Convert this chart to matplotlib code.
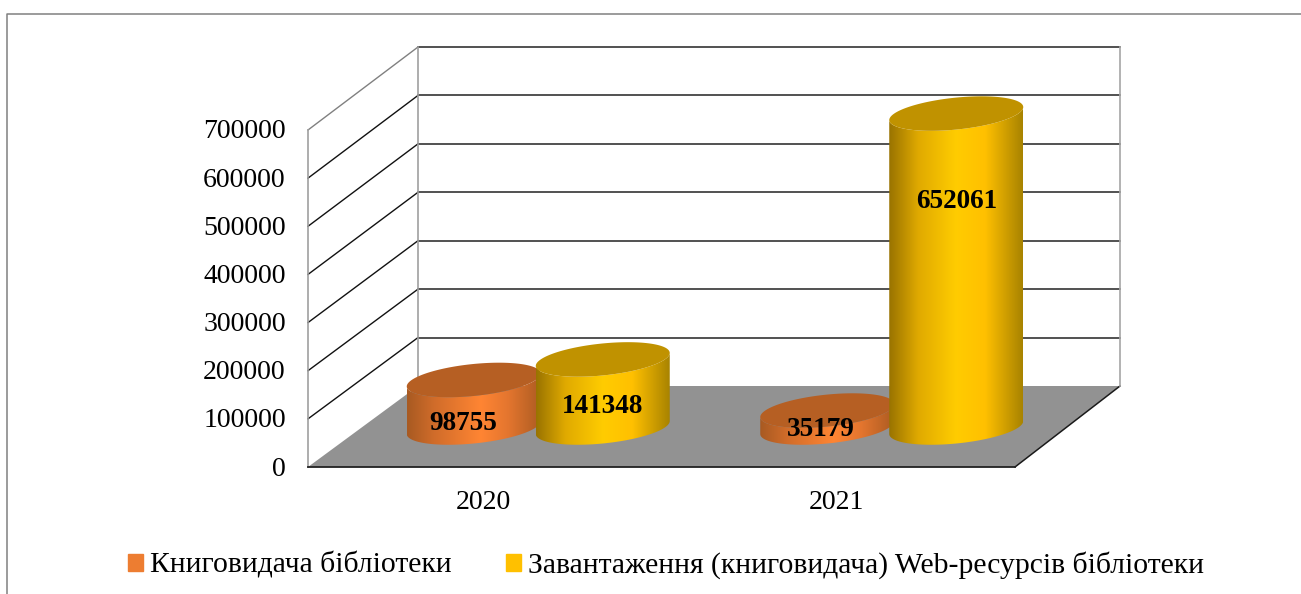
import matplotlib
matplotlib.use('Agg')
import matplotlib.pyplot as plt
import numpy as np
from matplotlib.colors import LinearSegmentedColormap
from matplotlib.lines import Line2D
from matplotlib.patches import Patch, Polygon
from matplotlib.transforms import ScaledTranslation

plt.rcParams['font.family'] = ['Liberation Serif', 'DejaVu Sans']

years = ['2020', '2021']
books = [98755, 35179]
downloads = [141348, 652061]
series_names = ['Книговидача бібліотеки', 'Завантаження (книговидача) Web-ресурсів бібліотеки']
y_ticks = [0, 100000, 200000, 300000, 400000, 500000, 600000, 700000]

W, H = 1301, 594
fig = plt.figure(figsize=(W / 100, H / 100), dpi=100, facecolor='white')
# axes = the front plane of the fake 3d box
ax = fig.add_axes([308 / W, 1 - 467 / H, 707 / W, 337 / H])
ax.set_facecolor('none')

px_x = 2.0 / 707      # category units per pixel
px_y = 700000 / 337   # value units per pixel
back_dx_l = 110 * px_x
back_dx_r = 105 * px_x
back_dy = 81 * px_y
back_k = 339 / 337    # back wall is slightly taller

x0, x1 = -0.5, 1.5

# floor
ax.add_patch(Polygon([(x0, 0), (x1, 0), (x1 + back_dx_r, back_dy), (x0 + back_dx_l, back_dy)],
                     closed=True, fc='#929292', ec='none', clip_on=False, zorder=1))
ax.plot([x1, x1 + back_dx_r], [0, back_dy], color='#1a1a1a', lw=1.1, clip_on=False, zorder=1.5)

# walls and gridlines
for v in y_ticks[1:]:
    c = '#808080' if v == y_ticks[-1] else '#111111'
    by = back_dy + v * back_k
    ax.plot([x0, x0 + back_dx_l], [v, by], color=c, lw=1.0, clip_on=False, zorder=1.5)
    ax.plot([x0 + back_dx_l, x1 + back_dx_r], [by, by], color='#222222', lw=1.1, clip_on=False, zorder=1.5)
top_back = back_dy + y_ticks[-1] * back_k
ax.plot([x0 + back_dx_l] * 2, [back_dy, top_back], color='#a0a0a0', lw=1.2, clip_on=False, zorder=1.6)
ax.plot([x1 + back_dx_r] * 2, [back_dy, top_back], color='#a6a6a6', lw=1.2, clip_on=False, zorder=1.6)


orange_cm = LinearSegmentedColormap.from_list('o', [(0, '#a85a22'), (0.2, '#d06c2a'), (0.55, '#ff8533'),
                                                    (0.75, '#e5762f'), (1, '#ad5c22')])
yellow_cm = LinearSegmentedColormap.from_list('y', [(0, '#997300'), (0.22, '#e0aa00'), (0.5, '#ffcc00'),
                                                    (0.72, '#ffc000'), (1, '#a88300')])

a = 67 * px_x         # half width
b = 16 * px_y         # ellipse half height
k = 6.5 * px_y        # ellipse tilt
base = 39.5 * px_y    # centre of the cylinder feet above the front edge
shift = 53.5 * px_x   # depth offset of the row
gap = 64.5 * px_x


def cylinder(cx, value, cmap, top_color, z):
    t = np.linspace(np.pi, 2 * np.pi, 80)
    xs = cx + a * np.cos(t)
    low = base + k * np.cos(t) + b * np.sin(t)
    top = low + value * 1.0
    side = np.vstack([np.column_stack([xs, low]), np.column_stack([xs[::-1], top[::-1]])])
    clip = Polygon(side, closed=True, transform=ax.transData, fc='none', ec='none')
    ax.add_patch(clip)
    clip.set_clip_on(False)
    im = ax.imshow(np.linspace(0, 1, 256).reshape(1, -1), cmap=cmap, aspect='auto', zorder=z,
                   extent=(cx - a, cx + a, base - 2 * b, base + value + 2 * b))
    im.set_clip_box(fig.bbox)
    im.set_clip_path(clip)
    tt = np.linspace(0, 2 * np.pi, 160)
    cap = np.column_stack([cx + a * np.cos(tt), base + value + k * np.cos(tt) + b * np.sin(tt)])
    ax.add_patch(Polygon(cap, closed=True, fc=top_color, ec='none', clip_on=False, zorder=z + 0.1))


for i in range(len(years)):
    cylinder(i + shift - gap, books[i], orange_cm, '#b65f23', 3 + i * 2)
    cylinder(i + shift + gap, downloads[i], yellow_cm, '#c09200', 4 + i * 2)

ax.set_xlim(x0, x1)
ax.set_ylim(0, 700000)

# data labels, placed where the original has them
label_x = [shift - gap - 11 * px_x, 1 + shift - gap - 6 * px_x, shift + gap, 1 + shift + gap]
label_y = [90500, 77000, 126000, 551000]
label_val = books + downloads
for lx, ly, val in zip(label_x, label_y, label_val):
    ax.text(lx, ly, str(val), ha='center', va='center', fontsize=19.6, fontweight='bold',
            color='black', zorder=20, clip_on=False)

ax.set_xticks(range(len(years)))
ax.set_xticklabels(years)
ax.set_yticks(y_ticks)
ax.set_yticklabels([str(v) for v in y_ticks])
ax.tick_params(axis='x', length=0, pad=16.5, labelsize=20)
ax.tick_params(axis='y', length=0, pad=16, labelsize=20)
for lab in ax.get_xticklabels():
    lab.set_transform(lab.get_transform() + ScaledTranslation(-1.5 / 100, 0, fig.dpi_scale_trans))
for lab in ax.get_yticklabels():
    lab.set_transform(lab.get_transform() + ScaledTranslation(0, 1 / 100, fig.dpi_scale_trans))
ax.spines['top'].set_visible(False)
ax.spines['right'].set_visible(False)
ax.spines['left'].set_color('#a0a0a0')
ax.spines['left'].set_linewidth(1.2)
ax.spines['bottom'].set_color('#222222')
ax.spines['bottom'].set_linewidth(1.3)

handles = [Patch(color='#ed7d31', label=series_names[0]), Patch(color='#ffc000', label=series_names[1])]
fig.legend(handles=handles, loc='center left', bbox_to_anchor=(128 / W, 1 - 565 / H), ncol=2, frameon=False,
           fontsize=21.3, borderpad=0, borderaxespad=0, handlelength=0.51, handleheight=0.51,
           handletextpad=0.24, columnspacing=1.82)

# chart frame, only left and top show in the crop
frame_x = [7 / W, 7 / W, 1]
frame_y = [0, 1 - 14 / H, 1 - 14 / H]
fig.add_artist(Line2D(frame_x, frame_y, color='#808080', lw=1.1))

fig.savefig('out.png', dpi=100)
